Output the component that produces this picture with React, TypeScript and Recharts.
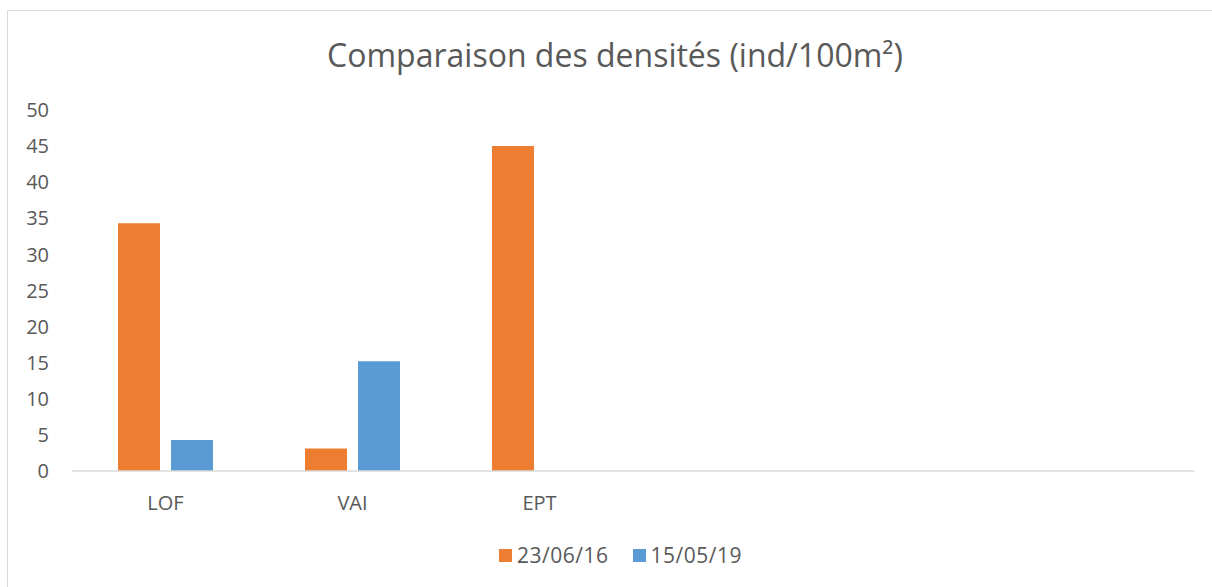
import React from "react";
import { BarChart, Bar, XAxis, YAxis } from "recharts";

const categories = ["LOF", "VAI", "EPT", " ", "  ", "   "];
const series2016 = [34.3, 3.1, 45.0, null, null, null];
const series2019 = [4.3, 15.2, null, null, null, null];
const yTicks = [0, 5, 10, 15, 20, 25, 30, 35, 40, 45, 50];
const seriesNames = ["23/06/16", "15/05/19"];
const seriesColors = ["#ED7D31", "#5B9BD5"];

const data = categories.map((c, i) => ({
  cat: c,
  a: series2016[i],
  b: series2019[i],
}));

const FONT = "'Open Sans', sans-serif";
const TEXT = "#595959";

function LegendContent() {
  return (
    <div
      style={{
        display: "flex",
        justifyContent: "center",
        alignItems: "center",
        fontFamily: FONT,
        fontSize: 21,
        letterSpacing: 0.5,
        color: TEXT,
      }}
    >
      {seriesNames.map((n, i) => (
        <div key={n} style={{ display: "flex", alignItems: "center", marginRight: i === 0 ? 24 : 0 }}>
          <span style={{ width: 13, height: 13, background: seriesColors[i], display: "inline-block", marginRight: 5 }} />
          <span>{n}</span>
        </div>
      ))}
    </div>
  );
}

export default function App() {
  return (
    <div style={{ position: "absolute", left: 0, top: 0, width: 1212, height: 587, overflow: "hidden", background: "#fff" }}>
      <div
        style={{
          position: "absolute",
          left: 7,
          top: 10,
          width: 1240,
          height: 620,
          border: "1px solid #D9D9D9",
          boxSizing: "border-box",
        }}
      />
      <div
        style={{
          position: "absolute",
          left: 0,
          width: 1230,
          top: 33,
          textAlign: "center",
          fontFamily: FONT,
          fontSize: 32,
          color: TEXT,
          whiteSpace: "nowrap",
        }}
      >
        Comparaison des densités (ind/100m²)
      </div>
      <div style={{ position: "absolute", left: 0, top: 0 }}>
        <BarChart
          width={1212}
          height={587}
          data={data}
          margin={{ top: 110, right: 18, bottom: 86, left: 0 }}
          barGap={11}
          barCategoryGap={46}
        >
          <XAxis
            dataKey="cat"
            height={30}
            axisLine={{ stroke: "#D9D9D9", strokeWidth: 1.5 }}
            tickLine={false}
            tickSize={0}
            tickMargin={25}
            tick={{ fill: TEXT, fontSize: 20, fontFamily: FONT }}
            interval={0}
          />
          <YAxis
            width={72}
            domain={[0, 50]}
            ticks={yTicks}
            axisLine={false}
            tickLine={false}
            tickSize={0}
            tickMargin={23}
            tick={{ fill: TEXT, fontSize: 20, fontFamily: FONT }}
            interval={0}
          />
          <Bar dataKey="a" name={seriesNames[0]} fill={seriesColors[0]} isAnimationActive={false} />
          <Bar dataKey="b" name={seriesNames[1]} fill={seriesColors[1]} isAnimationActive={false} />
        </BarChart>
      </div>
      <div style={{ position: "absolute", left: 0, width: 1241, top: 541 }}>
        <LegendContent />
      </div>
    </div>
  );
}
